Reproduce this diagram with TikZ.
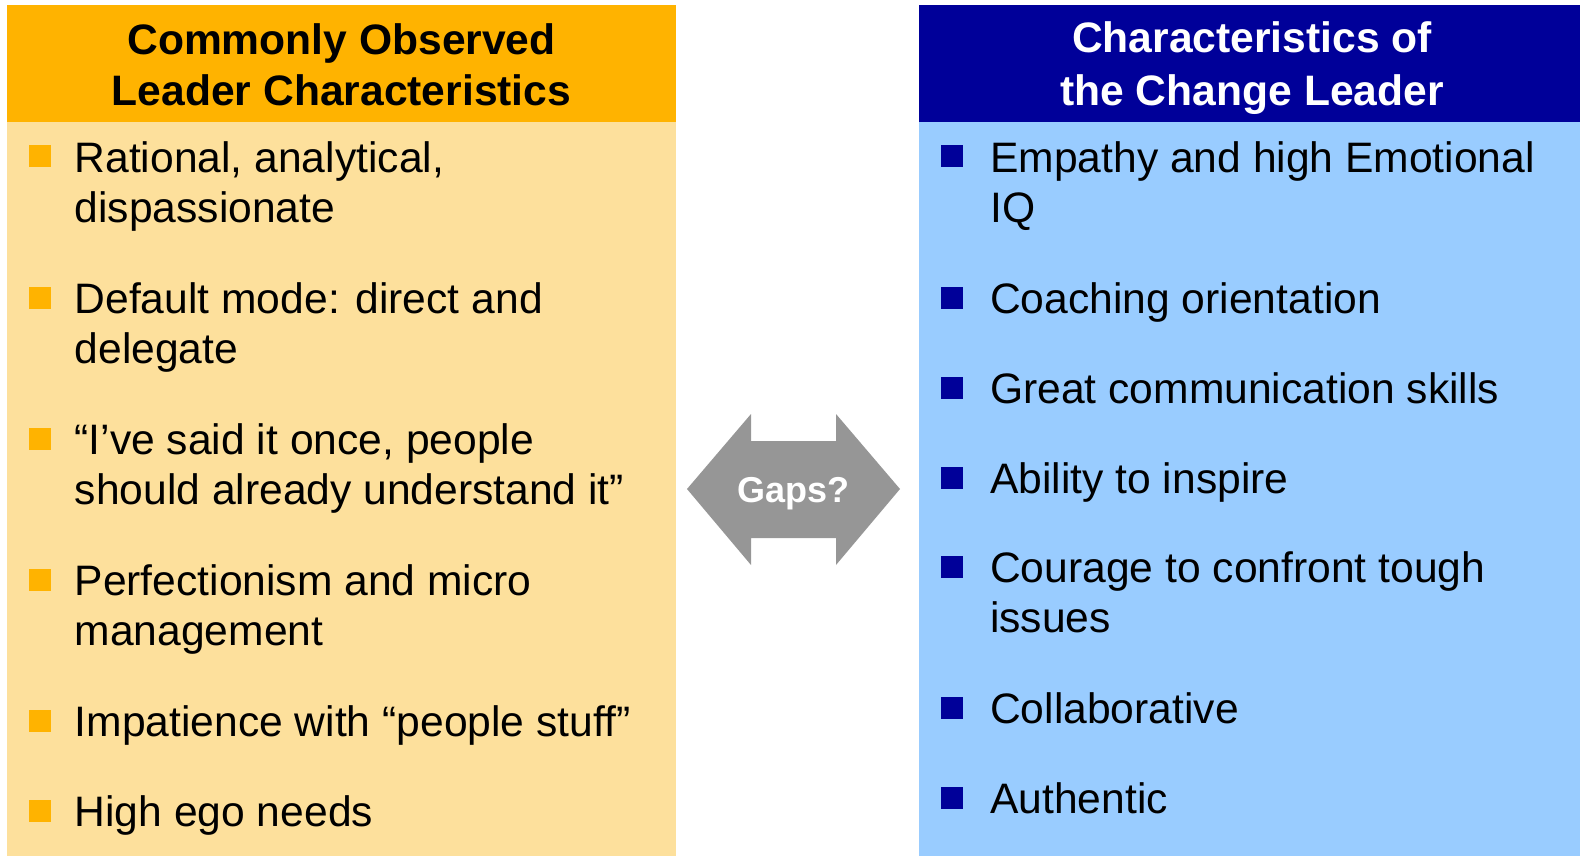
\documentclass[tikz,border=0pt]{standalone}
\usepackage{fontspec}
\setmainfont{Liberation Sans}
\definecolor{orhead}{HTML}{FFB300}
\definecolor{orbody}{HTML}{FDE09C}
\definecolor{blhead}{HTML}{000099}
\definecolor{blbody}{HTML}{99CCFF}
\definecolor{gapgray}{HTML}{969696}
\begin{document}
\begin{tikzpicture}[x=1pt,y=-1pt,
	item/.style={anchor=base west,inner sep=0pt,align=left,font=\fontsize{42.6}{50.5}\selectfont},
	head/.style={anchor=base,inner sep=0pt,align=center,font=\fontsize{42.6}{51}\selectfont\bfseries},
	bul/.style={rectangle,minimum size=22pt,inner sep=0pt}]
	\useasboundingbox (0,0) rectangle (1580,856);
	
	%left panel (text placed at baseline of last line)
	\fill[orbody] (7,122) rectangle (676,856);
	\fill[orhead] (7,5) rectangle (676,122);
	\node[head] (lhead) at (341.5,106) {Commonly Observed\\Leader Characteristics};
	
	\node[bul,fill=orhead] (lb1) at (40,156.5) {};	\node[item] (li1) at (74.5,222.5) {Rational, analytical,\\dispassionate};
	\node[bul,fill=orhead] (lb2) at (40,297.5) {};	\node[item] (li2) at (74.5,363.5) {Default mode: direct and\\delegate};
	\node[bul,fill=orhead] (lb3) at (40,438.5) {};	\node[item] (li3) at (74.5,504.5) {“I’ve said it once, people\\should already understand it”};
	\node[bul,fill=orhead] (lb4) at (40,579.5) {};	\node[item] (li4) at (74.5,645.5) {Perfectionism and micro\\management};
	\node[bul,fill=orhead] (lb5) at (40,720.5) {};	\node[item] (li5) at (74.5,736) {Impatience with “people stuff”};
	\node[bul,fill=orhead] (lb6) at (40,810.5) {};	\node[item] (li6) at (74.5,826) {High ego needs};
	
	%right panel
	\fill[blbody] (919,122) rectangle (1580,856);
	\fill[blhead] (919,5) rectangle (1580,122);
	\node[head,text=white,font=\fontsize{42.6}{53}\selectfont\bfseries] (rhead) at (1252,106) {Characteristics of\\the Change Leader};
	
	\node[bul,fill=blhead] (rb1) at (952,156.5) {};	\node[item] (ri1) at (990,222.5) {Empathy and high Emotional\\IQ};
	\node[bul,fill=blhead] (rb2) at (952,297.5) {};	\node[item] (ri2) at (990,313) {Coaching orientation};
	\node[bul,fill=blhead] (rb3) at (952,387.5) {};	\node[item] (ri3) at (990,403) {Great communication skills};
	\node[bul,fill=blhead] (rb4) at (952,477.5) {};	\node[item] (ri4) at (990,493) {Ability to inspire};
	\node[bul,fill=blhead] (rb5) at (952,566.5) {};	\node[item] (ri5) at (990,632.5) {Courage to confront tough\\issues};
	\node[bul,fill=blhead] (rb6) at (952,707.5) {};	\node[item] (ri6) at (990,723) {Collaborative};
	\node[bul,fill=blhead] (rb7) at (952,797.5) {};	\node[item] (ri7) at (990,813) {Authentic};
	
	%double arrow
	\fill[gapgray] (687,489) -- (751,414) -- (751,441) -- (836,441) -- (836,414) -- (900,489)
		-- (836,565) -- (836,538) -- (751,538) -- (751,565) -- cycle;
	\node[text=white,font=\fontsize{36}{40}\selectfont\bfseries] (gaps) at (793.5,494) {Gaps?};
\end{tikzpicture}
\end{document}
